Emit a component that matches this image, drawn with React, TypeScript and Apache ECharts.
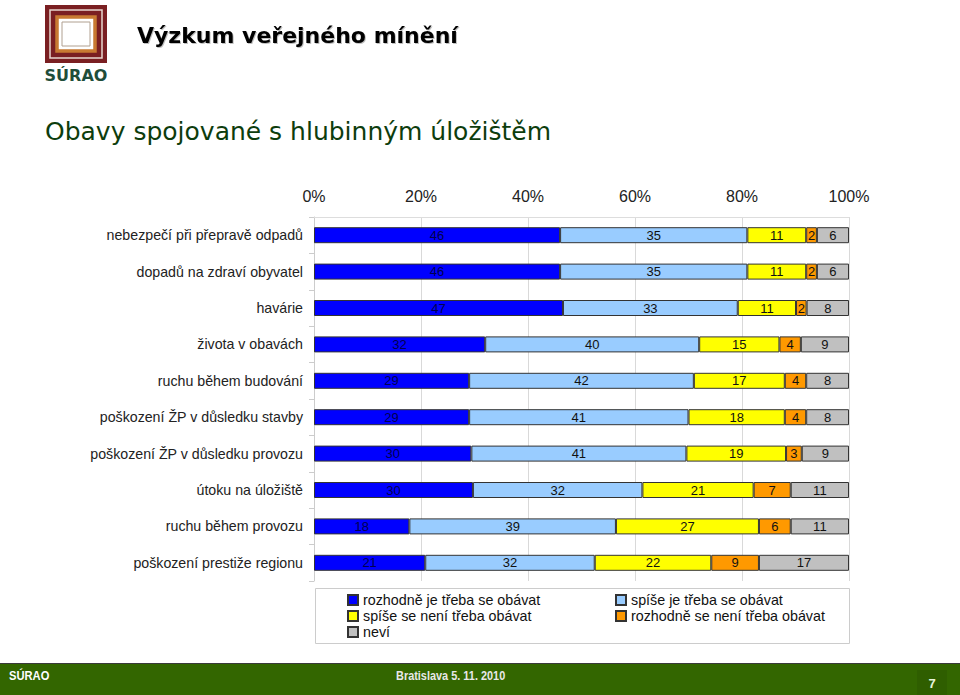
import React, { useEffect, useRef } from "react";
import * as echarts from "echarts";

const categories = [
  "nebezpečí při přepravě odpadů",
  "dopadů na zdraví obyvatel",
  "havárie",
  "života v obavách",
  "ruchu během budování",
  "poškození ŽP v důsledku stavby",
  "poškození ŽP v důsledku provozu",
  "útoku na úložiště",
  "ruchu během provozu",
  "poškození prestiže regionu",
];

const seriesNames = [
  "rozhodně je třeba se obávat",
  "spíše je třeba se obávat",
  "spíše se není třeba obávat",
  "rozhodně se není třeba obávat",
  "neví",
];

const definitelyWorry = [46, 46, 47, 32, 29, 29, 30, 30, 18, 21];
const ratherWorry = [35, 35, 33, 40, 42, 41, 41, 32, 39, 32];
const ratherNotWorry = [11, 11, 11, 15, 17, 18, 19, 21, 27, 22];
const definitelyNotWorry = [2, 2, 2, 4, 4, 4, 3, 7, 6, 9];
const dontKnow = [6, 6, 8, 9, 8, 8, 9, 11, 11, 17];

const xTicks = [0, 20, 40, 60, 80, 100];

const colors = ["#0000FF", "#99CCFF", "#FFFF00", "#FF9900", "#C0C0C0"];
const labelColors = ["#000050", "#111", "#111", "#111", "#111"];

export default function App() {
  const ref = useRef<HTMLDivElement>(null);

  useEffect(() => {
    if (!ref.current) return;
    const chart = echarts.init(ref.current, undefined, { renderer: "svg" });
    const all = [definitelyWorry, ratherWorry, ratherNotWorry, definitelyNotWorry, dontKnow];
    const totals = categories.map((_, i) => all.reduce((s, arr) => s + arr[i], 0));

    const ff = "Liberation Sans, Arial, sans-serif";

    const series = all.map((arr, si) => ({
      name: seriesNames[si],
      type: "bar",
      stack: "total",
      barWidth: 16,
      data: arr.map((v, i) => ({ value: (v / totals[i]) * 100, raw: v })),
      itemStyle: { color: colors[si], borderColor: "#333", borderWidth: 1 },
      label: {
        show: true,
        position: "inside",
        fontFamily: ff,
        fontSize: 13,
        color: labelColors[si],
        formatter: (p: any) => String(p.data.raw),
      },
    }));

    const legendCommon = {
      orient: "vertical",
      top: 592,
      padding: 0,
      itemWidth: 10,
      itemHeight: 10,
      itemGap: 0,
      icon: "rect",
      textStyle: { fontFamily: ff, fontSize: 14.3, color: "#111", lineHeight: 16 },
    };

    chart.setOption({
      animation: false,
      backgroundColor: "#ffffff",
      grid: { left: 314, top: 217, width: 535, height: 364, containLabel: false },
      xAxis: {
        type: "value",
        position: "top",
        min: 0,
        max: 100,
        interval: 20,
        axisLine: { show: true, lineStyle: { color: "#dddddd" } },
        axisTick: { show: false },
        splitLine: { show: true, lineStyle: { color: "#d9d9d9" } },
        axisLabel: {
          fontFamily: ff,
          fontSize: 16,
          color: "#222",
          margin: 13,
          formatter: (v: number) => (xTicks.includes(v) ? v + "%" : ""),
        },
      },
      yAxis: {
        type: "category",
        inverse: true,
        data: categories,
        axisLine: { show: true, lineStyle: { color: "#cccccc" } },
        axisTick: { show: true, length: 5, lineStyle: { color: "#cccccc" } },
        axisLabel: { fontFamily: ff, fontSize: 14.2, color: "#222", margin: 11 },
      },
      legend: [
        {
          ...legendCommon,
          data: [seriesNames[0], seriesNames[2], seriesNames[4]],
          left: 347,
        },
        {
          ...legendCommon,
          data: [seriesNames[1], seriesNames[3]],
          left: 615,
        },
      ],
      series,
      graphic: [
        // legend box
        {
          type: "rect",
          shape: { x: 315.5, y: 588.5, width: 534, height: 55 },
          style: { fill: "none", stroke: "#cccccc", lineWidth: 1 },
          silent: true,
        },
        // logo
        {
          type: "rect",
          shape: { x: 45, y: 5, width: 62, height: 58 },
          style: { fill: "#7a1f22" },
        },
        {
          type: "rect",
          shape: { x: 50, y: 10, width: 52, height: 48 },
          style: { fill: "none", stroke: "#e8d8d0", lineWidth: 1.5 },
        },
        {
          type: "rect",
          shape: { x: 57, y: 17, width: 38, height: 34 },
          style: { fill: "#ffffff", stroke: "#c87a32", lineWidth: 3.5 },
        },
        {
          type: "rect",
          shape: { x: 62, y: 22, width: 28, height: 24 },
          style: { fill: "#ffffff", stroke: "#b0a090", lineWidth: 1 },
        },
        {
          type: "text",
          x: 76,
          y: 75,
          style: {
            text: "SÚRAO",
            fontFamily: "DejaVu Sans, sans-serif",
            fontWeight: "bold",
            fontSize: 16,
            fill: "#1f4d3a",
            align: "center",
            verticalAlign: "middle",
          },
        },
        // titles
        {
          type: "text",
          x: 137,
          y: 35,
          style: {
            text: "Výzkum veřejného mínění",
            fontFamily: "DejaVu Sans, sans-serif",
            fontWeight: "bold",
            fontSize: 22,
            fill: "#000000",
            align: "left",
            verticalAlign: "middle",
            textShadowColor: "rgba(0,0,0,0.25)",
            textShadowOffsetX: 1,
            textShadowOffsetY: 1,
            textShadowBlur: 1,
          },
        },
        {
          type: "text",
          x: 45,
          y: 131,
          style: {
            text: "Obavy spojované s hlubinným úložištěm",
            fontFamily: "DejaVu Sans, sans-serif",
            fontSize: 25,
            fill: "#0d3d0d",
            align: "left",
            verticalAlign: "middle",
          },
        },
        // footer
        {
          type: "rect",
          shape: { x: 0, y: 664, width: 960, height: 31 },
          style: { fill: "#336600" },
        },
        {
          type: "line",
          shape: { x1: 0, y1: 663.5, x2: 960, y2: 663.5 },
          style: { stroke: "#3a3a3a", lineWidth: 1 },
        },
        {
          type: "rect",
          shape: { x: 917, y: 670, width: 30, height: 25 },
          style: { fill: "#2f5e00" },
        },
        {
          type: "text",
          x: 9,
          y: 676,
          scaleX: 0.86,
          style: {
            text: "SÚRAO",
            fontFamily: ff,
            fontWeight: "bold",
            fontSize: 13,
            fill: "#ffffff",
            align: "left",
            verticalAlign: "middle",
          },
        },
        {
          type: "text",
          x: 396,
          y: 676,
          scaleX: 0.84,
          style: {
            text: "Bratislava 5. 11. 2010",
            fontFamily: ff,
            fontWeight: "bold",
            fontSize: 13,
            fill: "#e8e8e8",
            align: "left",
            verticalAlign: "middle",
          },
        },
        {
          type: "text",
          x: 932,
          y: 683,
          style: {
            text: "7",
            fontFamily: ff,
            fontWeight: "bold",
            fontSize: 13,
            fill: "#e8f4dc",
            align: "center",
            verticalAlign: "middle",
          },
        },
      ],
    });

    return () => chart.dispose();
  }, []);

  return (
    <div
      ref={ref}
      style={{ position: "absolute", left: 0, top: 0, width: 960, height: 695 }}
    />
  );
}
